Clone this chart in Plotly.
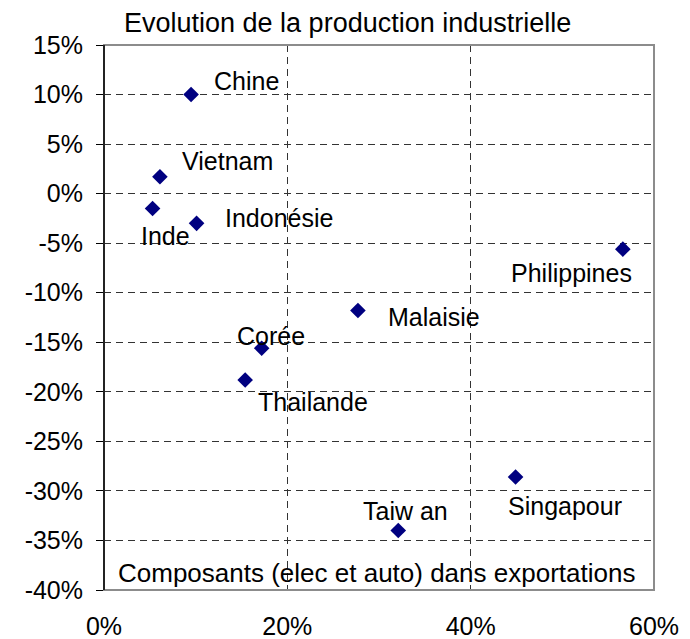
import plotly.graph_objects as go

countries = ["Chine", "Vietnam", "Inde", "Indonésie", "Philippines", "Malaisie",
             "Corée", "Thailande", "Singapour", "Taiw an"]
composants = [9.5, 6.1, 5.3, 10.1, 56.6, 27.7, 17.2, 15.4, 44.9, 32.1]
production = [10.0, 1.7, -1.5, -3.0, -5.6, -11.8, -15.6, -18.8, -28.6, -34.0]

x_ticks = [0, 20, 40, 60]
x_tick_labels = ["0%", "20%", "40%", "60%"]
y_ticks = [15, 10, 5, 0, -5, -10, -15, -20, -25, -30, -35, -40]
y_tick_labels = [f"{v}%" for v in y_ticks]

title_text = "Evolution de la production industrielle"
x_title_text = "Composants (elec et auto) dans exportations"

# label offsets in pixels (xshift, yshift)
label_pos = {
    "Chine": (55, 14),
    "Vietnam": (68, 16),
    "Inde": (13, -27),
    "Indonésie": (82, 5),
    "Philippines": (-51, -24),
    "Malaisie": (76, -6),
    "Corée": (9, 12),
    "Thailande": (68, -22),
    "Singapour": (49, -29),
    "Taiw an": (7, 20),
}

FONT = "Liberation Sans, Arial, sans-serif"

fig = go.Figure()
fig.add_trace(go.Scatter(
    x=composants, y=production, mode="markers",
    marker=dict(symbol="diamond", size=12, color="#000080",
                line=dict(width=0)),
    hoverinfo="text", text=countries, showlegend=False,
))

for name, xv, yv in zip(countries, composants, production):
    dx, dy = label_pos[name]
    fig.add_annotation(x=xv, y=yv, text=name, showarrow=False,
                       xshift=dx, yshift=dy, xanchor="center", yanchor="middle",
                       font=dict(family=FONT, size=25, color="#000000"))

fig.add_annotation(xref="paper", yref="paper", x=0.443, y=1.0, yshift=22,
                   xanchor="center", yanchor="middle",
                   text=title_text, showarrow=False,
                   font=dict(family=FONT, size=27, color="#000000"))
fig.add_annotation(xref="paper", yref="paper", x=0.496, y=0.0, yshift=17,
                   xanchor="center", yanchor="middle",
                   text=x_title_text, showarrow=False,
                   font=dict(family=FONT, size=26, color="#000000"))

# plot border (gray)
fig.add_shape(type="rect", xref="paper", yref="paper", x0=0, y0=0, x1=1, y1=1,
              line=dict(color="#8c8c8c", width=2), layer="above")
fig.add_shape(type="line", xref="paper", yref="paper", x0=0, y0=0, x1=0, y1=1,
              line=dict(color="#000000", width=1.5), layer="above")

fig.update_xaxes(range=[0, 60], tickvals=x_ticks, ticktext=x_tick_labels,
                 showgrid=True, gridcolor="#333333", griddash="7px,5px", gridwidth=1,
                 zeroline=False, showline=False, ticks="",
                 ticklabelstandoff=19, automargin=False,
                 tickfont=dict(family=FONT, size=25, color="#000000"))
fig.update_yaxes(range=[-40, 15], tickvals=y_ticks, ticktext=y_tick_labels,
                 showgrid=True, gridcolor="#333333", griddash="7px,5px", gridwidth=1,
                 zeroline=False, showline=True, linecolor="#000000", linewidth=1,
                 ticks="outside", ticklen=7, tickcolor="#000000",
                 ticklabelstandoff=8, automargin=False,
                 tickfont=dict(family=FONT, size=25, color="#000000"))

fig.update_layout(
    width=682, height=631,
    margin=dict(l=96, r=36, t=37, b=49),
    paper_bgcolor="white", plot_bgcolor="white",
    showlegend=False,
)

fig.write_html("out.html")
